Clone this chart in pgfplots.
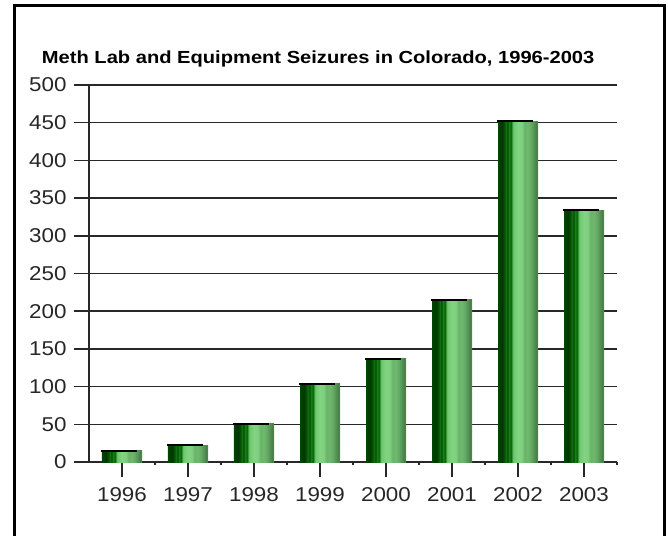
\documentclass[border=0pt]{standalone}
\usepackage{fontspec}
\setmainfont{Liberation Sans}
\newfontfamily\tickfont[FakeStretch=1.12]{Liberation Sans}
\newfontfamily\titlefont[FakeStretch=1.15]{Liberation Sans}
\usepackage{pgfplots}
\pgfplotsset{compat=1.18}

\definecolor{gridc}{RGB}{40,40,40}
% stripes of the cylinder-like bars, left to right
\definecolor{s1}{RGB}{0,70,0}
\definecolor{s2}{RGB}{0,55,0}
\definecolor{s3}{RGB}{0,85,0}
\definecolor{s4}{RGB}{20,110,20}
\definecolor{s5}{RGB}{0,80,0}
\definecolor{s6}{RGB}{30,130,30}
\definecolor{s7}{RGB}{0,100,0}
\definecolor{s8}{RGB}{110,200,110}
\definecolor{s9}{RGB}{130,212,130}
\definecolor{s10}{RGB}{125,205,125}
\definecolor{s11}{RGB}{105,180,105}
\definecolor{s12}{RGB}{110,185,110}
\definecolor{s13}{RGB}{100,170,100}
\definecolor{s14}{RGB}{85,145,85}
\definecolor{s15}{RGB}{70,125,70}
\definecolor{s16}{RGB}{90,150,90}
\pgfdeclarehorizontalshading{barshade}{100bp}{color(0bp)=(s1); color(25bp)=(s1);
  color(30bp)=(s2); color(33bp)=(s3); color(35bp)=(s4); color(37bp)=(s5);
  color(39bp)=(s6); color(41bp)=(s7); color(44bp)=(s8); color(50bp)=(s9);
  color(55bp)=(s10); color(58bp)=(s11); color(62bp)=(s12); color(66bp)=(s13);
  color(70bp)=(s14); color(73bp)=(s15); color(75bp)=(s16); color(100bp)=(s16)}

\pgfplotsset{cyl/.style={ybar, bar width=40pt, draw=none, shading=barshade}}

\begin{document}
\begin{tikzpicture}
\useasboundingbox (0pt,0pt) rectangle (668pt,535pt);
% outer frame of the figure
\draw[line width=3pt] (14pt,-10pt) -- (14pt,529pt) -- (664pt,529pt) -- (664pt,-10pt);
\begin{axis}[
    at={(89pt,73pt)}, anchor=south west,
    scale only axis, width=528pt, height=377pt,
    xmin=-0.5, xmax=7.5, ymin=0, ymax=500,
    axis x line*=bottom, axis y line*=left,
    axis line style={-, line width=1.5pt, color=gridc},
    ytick={0,50,...,500},
    xtick={0,...,7},
    xticklabels={1996,1997,1998,1999,2000,2001,2002,2003},
    minor xtick={0.5,1.5,...,7.5},
    tick align=outside,
    major tick length=15pt,
    minor tick length=3pt,
    tick style={line width=1.5pt, color=gridc},
    ymajorgrids,
    grid style={line width=1.5pt, color=gridc},
    /pgf/number format/assume math mode=true,
    ticklabel style={font=\tickfont\fontsize{20}{20}\selectfont, color=black!85},
    xticklabel style={yshift=-7pt},
    yticklabel style={xshift=-4pt},
    title={Meth Lab and Equipment Seizures in Colorado, 1996-2003},
    title style={font=\titlefont\bfseries\fontsize{17.5}{17.5}\selectfont, at={(rel axis cs:0.434,1)}, anchor=base, yshift=15pt},
    clip=false,
]
% one plot for each bar, so that each bar gets its own shading
\addplot[cyl] coordinates {(0,15)};
\addplot[cyl] coordinates {(1,22)};
\addplot[cyl] coordinates {(2,51)};
\addplot[cyl] coordinates {(3,104)};
\addplot[cyl] coordinates {(4,137)};
\addplot[cyl] coordinates {(5,215)};
\addplot[cyl] coordinates {(6,452)};
\addplot[cyl] coordinates {(7,334)};
\addplot[only marks, mark=-, mark size=18pt, mark options={line width=2pt, black}]
    coordinates {(-0.04,15) (0.96,22) (1.96,51) (2.96,104) (3.96,137) (4.96,215) (5.96,452) (6.96,334)};
\end{axis}
\end{tikzpicture}
\end{document}
